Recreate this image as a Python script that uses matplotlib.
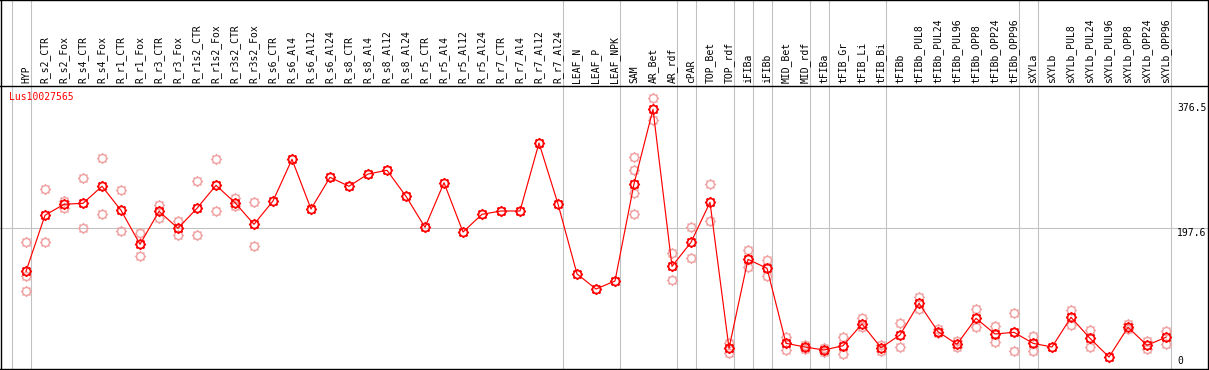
import matplotlib
matplotlib.use("Agg")
import matplotlib.pyplot as plt
import numpy as np
from matplotlib.path import Path

# ---------------- data ----------------
gene = "Lus10027565"

categories = [
    "HYP", "R_s2_CTR", "R_s2_Fox", "R_s4_CTR", "R_s4_Fox", "R_r1_CTR", "R_r1_Fox",
    "R_r3_CTR", "R_r3_Fox", "R_r1s2_CTR", "R_r1s2_Fox", "R_r3s2_CTR", "R_r3s2_Fox",
    "R_s6_CTR", "R_s6_Al4", "R_s6_Al12", "R_s6_Al24", "R_s8_CTR", "R_s8_Al4",
    "R_s8_Al12", "R_s8_Al24", "R_r5_CTR", "R_r5_Al4", "R_r5_Al12", "R_r5_Al24",
    "R_r7_CTR", "R_r7_Al4", "R_r7_Al12", "R_r7_Al24", "LEAF_N", "LEAF_P", "LEAF_NPK",
    "SAM", "AR_Bet", "AR_rdf", "cPAR", "TOP_Bet", "TOP_rdf", "iFIBa", "iFIBb",
    "MID_Bet", "MID_rdf", "tFIBa", "tFIB_Gr", "tFIB_Li", "tFIB_Bi", "tFIBb",
    "tFIBb_PUL8", "tFIBb_PUL24", "tFIBb_PUL96", "tFIBb_OPP8", "tFIBb_OPP24",
    "tFIBb_OPP96", "sXYLa", "sXYLb", "sXYLb_PUL8", "sXYLb_PUL24", "sXYLb_PUL96",
    "sXYLb_OPP8", "sXYLb_OPP24", "sXYLb_OPP96",
]

group_sizes = [1, 28, 3, 3, 1, 2, 1, 1, 2, 1, 3, 7, 1, 7]

means = [
    136.2, 216.2, 231.9, 233.3, 257.6, 223.3, 174.8, 221.9, 197.6, 226.2, 259.0,
    234.2, 203.3, 236.6, 296.1, 225.2, 270.4, 257.6, 275.1, 280.4, 243.3, 199.0,
    262.7, 192.3, 217.6, 222.3, 222.3, 319.4, 232.3, 132.4, 110.9, 122.4,
    260.9, 367.5, 143.3, 177.6, 234.7, 26.3, 153.3, 140.5, 33.4, 28.1, 23.8,
    30.0, 61.0, 27.1, 45.3, 90.5, 50.0, 32.0, 69.1, 46.7, 49.1, 33.4, 28.1,
    70.5, 40.5, 13.8, 56.3, 30.6, 42.0,
]

replicates = [
    [177.6, 129.9, 108.1], [253.3, 177.6], [237.0, 226.2], [269.0, 197.6],
    [297.6, 217.6], [251.9, 193.3], [190.5, 157.6], [230.9, 212.7], [207.6, 188.5],
    [265.1, 188.5], [296.1, 221.9], [240.9, 229.4], [234.7, 172.3],
    [], [], [], [], [], [], [], [], [], [], [], [], [], [], [], [],
    [], [], [],
    [299.0, 280.8, 247.6, 217.6], [383.6, 351.8], [162.3, 123.4], [199.5, 154.8],
    [260.4, 207.6], [33.4, 19.1], [166.2, 142.4], [152.3, 129.1], [42.4, 23.4],
    [31.0, 24.8], [26.3, 21.4], [42.4, 18.6], [69.1, 56.3], [31.0, 22.4],
    [62.0, 28.6], [99.1, 82.0], [53.4, 47.7], [37.1, 28.6], [82.0, 56.3],
    [58.5, 34.8], [76.2, 22.4], [43.8, 22.8], [], [81.0, 59.1], [52.4, 28.1],
    [], [60.5, 53.4], [37.1, 25.7], [51.0, 32.8],
]

scale_ticks = [376.5, 197.6, 0]

# ---------------- layout helpers (pixel geometry) ----------------
W, H = 1209, 370
X0, DX = 26.0, 19.0          # pixel x of first category, spacing
Y0, PPU = 366.7, 0.7004      # pixel y (from top) of value 0, pixels per unit


def py2v(py):
    return (Y0 - py) / PPU


def px2i(px):
    return (px - X0) / DX


fig = plt.figure(figsize=(W / 100, H / 100), dpi=100)
ax = fig.add_axes([0, 0, 1, 1])
ax.set_xlim(px2i(0), px2i(W))
ax.set_ylim(py2v(H), py2v(0))
ax.axis("off")

n = len(categories)
xs = np.arange(n)

# group separator lines
ends = [-1] + list(np.cumsum(group_sizes) - 1)
for e in ends:
    ax.axvline(e + 5 / DX, color="#c0c0c0", lw=0.75, zorder=1)

# horizontal grid line at middle tick
ax.plot([px2i(0), px2i(1208)], [scale_ticks[1]] * 2, color="#c0c0c0", lw=0.75, zorder=1)

# frame lines
blk = dict(color="black", lw=1.0, zorder=5)
ax.plot([px2i(1.5)] * 2, [py2v(0), py2v(H)], **blk)
ax.plot([px2i(1208.3)] * 2, [py2v(0), py2v(H)], **blk)
ax.plot([px2i(0), px2i(W)], [py2v(0.5)] * 2, **blk)
ax.plot([px2i(0), px2i(W)], [py2v(85.5)] * 2, **blk)
ax.plot([px2i(0), px2i(W)], [py2v(369.0)] * 2, **blk)

# custom marker: circle with small spikes
circ = Path.unit_circle()
ticks = []
for a in np.deg2rad(np.arange(0, 360, 45)):
    ticks.append(Path([(np.cos(a), np.sin(a)), (1.4 * np.cos(a), 1.4 * np.sin(a))],
                      [Path.MOVETO, Path.LINETO]))
marker_path = Path.make_compound_path(circ, *ticks)

# replicates
rx, ry = [], []
for i, reps in enumerate(replicates):
    for r in reps:
        rx.append(i)
        ry.append(r)
ax.plot(rx, ry, linestyle="none", marker=marker_path, markersize=8.0,
        markerfacecolor="none", markeredgecolor="#f0a0a0", markeredgewidth=1.0, zorder=2)

# mean line + markers
ax.plot(xs, means, color="#ff0000", lw=0.85, zorder=3)
ax.plot(xs, means, linestyle="none", marker=marker_path, markersize=8.0,
        markerfacecolor="none", markeredgecolor="#ff0000", markeredgewidth=1.2, zorder=4)

# category labels (rotated)
font = dict(family="DejaVu Sans Mono", fontsize=7)
for i, c in enumerate(categories):
    ax.text(i, py2v(83), c, rotation=90, ha="center", va="bottom", color="black", **font)

# gene name
ax.text(px2i(9), py2v(97), gene, ha="left", va="center", color="#ff0000", **font)

# scale labels
ax.text(px2i(1177), scale_ticks[0], f"{scale_ticks[0]}", ha="left", va="top", color="black", **font)
ax.text(px2i(1177), scale_ticks[1], f"{scale_ticks[1]}", ha="left", va="top", color="black", **font)
ax.text(px2i(1177), py2v(366), f"{scale_ticks[2]}", ha="left", va="bottom", color="black", **font)

fig.savefig("out.png", dpi=100)
